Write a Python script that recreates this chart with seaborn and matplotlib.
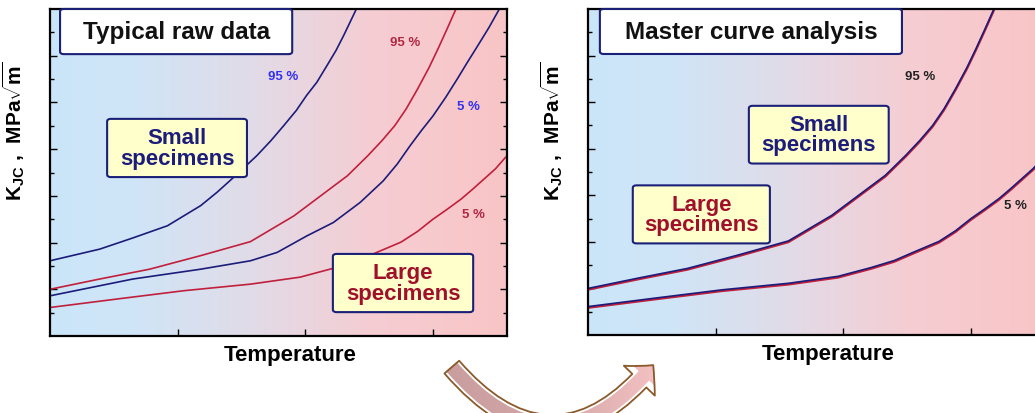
import matplotlib
matplotlib.use("Agg")
import matplotlib.pyplot as plt
import numpy as np
import seaborn as sns
from matplotlib.colors import LinearSegmentedColormap
from matplotlib.patches import FancyArrowPatch, FancyBboxPatch
from matplotlib import transforms

# Data (temperature in tick units, K_JC in tick units)
small_95_t = [0.0, 0.39, 0.65, 0.92, 1.18, 1.31, 1.44, 1.62, 1.73, 1.83, 1.93, 2.01, 2.09, 2.17, 2.24, 2.30, 2.40]
small_95_k = [1.61, 1.86, 2.10, 2.36, 2.79, 3.08, 3.40, 3.86, 4.18, 4.50, 4.83, 5.15, 5.43, 5.79, 6.11, 6.43, 7.00]
small_5_t = [0.0, 0.65, 1.18, 1.57, 1.78, 2.01, 2.22, 2.43, 2.61, 2.72, 2.82, 2.91, 3.00, 3.10, 3.19, 3.27, 3.35, 3.44, 3.52]
small_5_k = [0.86, 1.22, 1.43, 1.61, 1.79, 2.14, 2.43, 2.86, 3.32, 3.68, 4.07, 4.40, 4.71, 5.11, 5.50, 5.86, 6.21, 6.61, 7.00]
large_95_t = [0.0, 0.39, 0.78, 1.18, 1.57, 1.91, 2.12, 2.33, 2.49, 2.60, 2.70, 2.79, 2.88, 2.97, 3.04, 3.11, 3.18]
large_95_k = [1.00, 1.22, 1.43, 1.72, 2.02, 2.57, 3.00, 3.43, 3.86, 4.18, 4.50, 4.86, 5.29, 5.75, 6.15, 6.57, 7.00]
large_5_t = [0.0, 0.52, 1.05, 1.57, 1.96, 2.22, 2.40, 2.56, 2.75, 2.88, 3.00, 3.11, 3.22, 3.31, 3.40, 3.49, 3.57]
large_5_k = [0.61, 0.79, 0.97, 1.11, 1.26, 1.45, 1.60, 1.79, 2.01, 2.24, 2.50, 2.71, 2.93, 3.14, 3.36, 3.58, 3.83]

x_ticks = [1, 2, 3]
y_ticks = [1, 2, 3, 4, 5, 6]

NAVY = "#1c1c7a"
RED = "#c0203c"
BOX_EDGE = "#1a1f78"

sns.set_theme(style="ticks")
plt.rcParams["font.family"] = ["Liberation Sans", "DejaVu Sans"]
plt.rcParams["font.weight"] = "bold"
plt.rcParams["mathtext.fontset"] = "custom"
plt.rcParams["mathtext.bf"] = "Liberation Sans:bold"
plt.rcParams["mathtext.rm"] = "Liberation Sans:bold"
plt.rcParams["mathtext.it"] = "Liberation Sans:bold"

fig = plt.figure(figsize=(10.35, 4.14), dpi=100)
W, H = 1035, 414
ax_l = fig.add_axes([50 / W, (H - 337) / H, 457 / W, 327 / H])
ax_r = fig.add_axes([588 / W, (H - 336) / H, 457 / W, 326 / H])

bg = LinearSegmentedColormap.from_list("bg", [
    (0.0, "#cbe6f9"), (0.18, "#cfe5f7"), (0.45, "#e2dbe7"),
    (0.7, "#f5cdd3"), (1.0, "#f9c5c6")])
XMAX, YMAX = 3.58, 7.0


def setup(ax):
    ax.imshow(np.linspace(0, 1, 256)[None, :], extent=[0, XMAX, 0, YMAX],
              aspect="auto", cmap=bg, zorder=0)
    ax.set_xlim(0, XMAX)
    ax.set_ylim(0, YMAX)
    ax.set_xticks(x_ticks)
    ax.set_yticks(y_ticks)
    ax.set_yticks(np.arange(0.5, 7, 1.0), minor=True)
    ax.set_xticklabels([])
    ax.set_yticklabels([])
    ax.tick_params(axis="y", which="both", direction="in", left=True, right=True,
                   color="black", width=1)
    ax.tick_params(axis="y", which="major", length=5)
    ax.tick_params(axis="y", which="minor", length=3)
    ax.tick_params(axis="x", direction="in", length=5, width=1, color="black")
    for s in ax.spines.values():
        s.set_color("black")
        s.set_linewidth(1.6)
    ax.set_xlabel("Temperature", fontsize=16, fontweight="bold", color="black")
    ax.xaxis.set_label_coords(0.525, -0.025)
    ax.set_ylabel(r"$\mathbf{K}_{\mathbf{JC}}$ ,  $\mathbf{MPa}\sqrt{\mathbf{m}}$",
                  fontsize=15, fontweight="bold", color="black")
    ax.yaxis.set_label_coords(-0.05, 0.63)


def box(ax, x0, y0, x1, y1, text, fc, tc, size):
    ax.add_patch(FancyBboxPatch((x0, y0), x1 - x0, y1 - y0,
                                boxstyle="round,pad=0,rounding_size=0.008",
                                transform=ax.transAxes, fc=fc, ec=BOX_EDGE,
                                lw=1.5, zorder=4, clip_on=False))
    ax.text((x0 + x1) / 2, (y0 + y1) / 2, text, transform=ax.transAxes,
            ha="center", va="center", fontsize=size, fontweight="bold",
            color=tc, linespacing=0.95, zorder=5)


# Left panel: typical raw data
setup(ax_l)
sns.lineplot(x=small_95_t, y=small_95_k, ax=ax_l, color=NAVY, lw=1.2, sort=False, estimator=None)
sns.lineplot(x=small_5_t, y=small_5_k, ax=ax_l, color=NAVY, lw=1.2, sort=False, estimator=None)
sns.lineplot(x=large_95_t, y=large_95_k, ax=ax_l, color=RED, lw=1.2, sort=False, estimator=None)
sns.lineplot(x=large_5_t, y=large_5_k, ax=ax_l, color=RED, lw=1.2, sort=False, estimator=None)
ax_l.text(1.83, 5.57, "95 %", color="#3030f0", fontsize=9.5, fontweight="bold", ha="center", va="center")
ax_l.text(2.78, 6.30, "95 %", color="#b02840", fontsize=9.5, fontweight="bold", ha="center", va="center")
ax_l.text(3.28, 4.93, "5 %", color="#3030f0", fontsize=9.5, fontweight="bold", ha="center", va="center")
ax_l.text(3.32, 2.61, "5 %", color="#b02840", fontsize=9.5, fontweight="bold", ha="center", va="center")
box(ax_l, 0.022, 0.862, 0.53, 1.0, "Typical raw data", "white", "#111111", 17.5)
box(ax_l, 0.125, 0.486, 0.431, 0.664, "Small\nspecimens", "#ffffcc", NAVY, 16)
box(ax_l, 0.619, 0.073, 0.926, 0.251, "Large\nspecimens", "#ffffcc", "#a0102a", 16)

# Right panel: master curve analysis (both sets collapse onto one curve)
setup(ax_r)
shift = transforms.offset_copy(ax_r.transData, fig=fig, x=0, y=-1.2, units="dots")
for t, k in [(large_95_t, large_95_k), (large_5_t, large_5_k)]:
    ax_r.plot(t, k, color=RED, lw=1.6, transform=shift)
    sns.lineplot(x=t, y=k, ax=ax_r, color=NAVY, lw=1.2, sort=False, estimator=None)
ax_r.text(2.60, 5.57, "95 %", color="#222222", fontsize=9.5, fontweight="bold", ha="center", va="center")
ax_r.text(3.35, 2.79, "5 %", color="#222222", fontsize=9.5, fontweight="bold", ha="center", va="center")
box(ax_r, 0.026, 0.862, 0.687, 1.0, "Master curve analysis", "white", "#111111", 17.5)
box(ax_r, 0.352, 0.526, 0.658, 0.703, "Small\nspecimens", "#ffffcc", NAVY, 16)
box(ax_r, 0.098, 0.281, 0.398, 0.459, "Large\nspecimens", "#ffffcc", "#a0102a", 16)

# Curved arrow between the panels
ov = fig.add_axes([0, 0, 1, 1], zorder=-1)
ov.set_xlim(0, W)
ov.set_ylim(H, 0)
ov.axis("off")
arrow = FancyArrowPatch((450, 366), (655, 364), connectionstyle="arc3,rad=0.6",
                        arrowstyle="simple,head_width=31,head_length=15,tail_width=14",
                        mutation_scale=1, fc="none", ec="#8b5a2b", lw=1.3, zorder=3)
ov.add_patch(arrow)
arrow_cmap = LinearSegmentedColormap.from_list("arr", ["#c89c9c", "#d4a8a8", "#ffcaca"])
img = ov.imshow(np.linspace(0, 1, 256)[None, :], extent=[430, 690, 430, 340],
                aspect="auto", cmap=arrow_cmap, zorder=2)
img.set_clip_path(arrow)
ov.set_xlim(0, W)
ov.set_ylim(H, 0)

fig.savefig("out.png", dpi=100)
